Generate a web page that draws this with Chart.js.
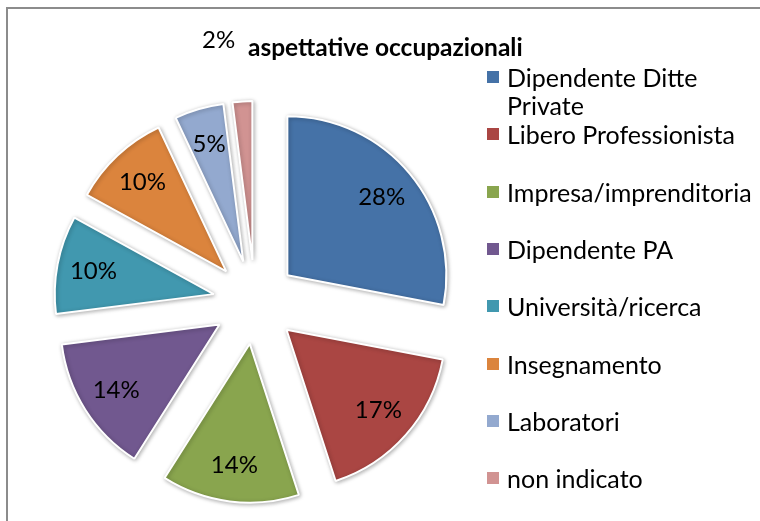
<!DOCTYPE html>
<html>
<head>
<meta charset="utf-8">
<script src="https://cdn.jsdelivr.net/npm/chart.js@4.4.0/dist/chart.umd.min.js"></script>
<style>
  html, body { margin: 0; padding: 0; background: #fff; }
  body { width: 760px; height: 521px; position: relative; overflow: hidden; font-family: Lato, "Open Sans", sans-serif; color: #000; }
  #frame { position: absolute; left: 6px; top: 7px; width: 800px; height: 600px; border-left: 2px solid #8c8c8c; border-top: 2px solid #8c8c8c; }
  #wrap { position: absolute; left: 0; top: 0; width: 760px; height: 521px; }
  #title { position: absolute; left: 248px; top: 33px; font-weight: bold; font-size: 24.5px; line-height: 28px; white-space: nowrap; }
  #legend { position: absolute; left: 487px; top: 0; }
  .item { position: absolute; left: 0; height: 28px; }
  .box { position: absolute; left: 0; top: 8px; width: 12px; height: 12px; }
  .txt { position: absolute; left: 20px; top: 0; width: 256px; font-size: 25px; line-height: 28px; }
</style>
</head>
<body>
<div id="frame"></div>
<div id="wrap"><canvas id="pie"></canvas></div>
<div id="title">aspettative occupazionali</div>
<div id="legend"></div>
<script>
const categories = ['Dipendente Ditte Private', 'Libero Professionista', 'Impresa/imprenditoria', 'Dipendente PA',
  'Università/ricerca', 'Insegnamento', 'Laboratori', 'non indicato'];
const percentages = [28, 17, 14, 14, 10, 10, 5, 2];
const sliceColors = ['#4572A7', '#AA4643', '#89A54E', '#71588F', '#4198AF', '#DB843D', '#93A9CF', '#D19392'];

// how far each slice is pulled out from the centre (px)
const EXPLODE = 42;

// legend, drawn as html next to the canvas
const legend = document.getElementById('legend');
categories.forEach((name, i) => {
  const item = document.createElement('div');
  item.className = 'item';
  item.style.top = (63 + i * 57.3) + 'px';
  item.innerHTML = '<div class="box" style="background:' + sliceColors[i] + '"></div><div class="txt">' + name + '</div>';
  legend.appendChild(item);
});

const explodePlugin = {
  id: 'explode',
  beforeDatasetDraw(chart, args) {
    const ctx = chart.ctx;
    args.meta.data.forEach(arc => {
      const mid = (arc.startAngle + arc.endAngle) / 2;
      ctx.save();
      ctx.shadowColor = 'rgba(0,0,0,0.3)';
      ctx.shadowBlur = 4;
      ctx.shadowOffsetX = 1;
      ctx.shadowOffsetY = 1;
      ctx.translate(Math.cos(mid) * EXPLODE, Math.sin(mid) * EXPLODE);
      arc.draw(ctx);
      ctx.restore();
    });
    return false;
  },
  afterDatasetsDraw(chart) {
    const ctx = chart.ctx;
    const meta = chart.getDatasetMeta(0);
    ctx.save();
    ctx.font = '24px Lato, "Open Sans", sans-serif';
    ctx.fillStyle = '#000';
    ctx.textAlign = 'center';
    ctx.textBaseline = 'middle';
    meta.data.forEach((arc, i) => {
      const mid = (arc.startAngle + arc.endAngle) / 2;
      let dist = EXPLODE + arc.outerRadius * 0.77;
      let dx = 0;
      if (percentages[i] < 3) {
        // tiny slice: label sits outside, up by the title
        dist = EXPLODE + arc.outerRadius + 61;
        dx = -20;
      }
      ctx.fillText(percentages[i] + '%', arc.x + Math.cos(mid) * dist + dx, arc.y + Math.sin(mid) * dist);
    });
    ctx.restore();
  }
};

new Chart(document.getElementById('pie'), {
  type: 'pie',
  data: {
    labels: categories,
    datasets: [{
      data: percentages,
      backgroundColor: sliceColors,
      borderColor: '#fff',
      borderWidth: 2,
      radius: 159
    }]
  },
  options: {
    responsive: true,
    maintainAspectRatio: false,
    animation: false,
    layout: { padding: { left: 60, right: 310, top: 100, bottom: 17 } },
    plugins: {
      legend: { display: false },
      tooltip: { enabled: false },
      title: { display: false }
    }
  },
  plugins: [explodePlugin]
});
</script>
</body>
</html>
